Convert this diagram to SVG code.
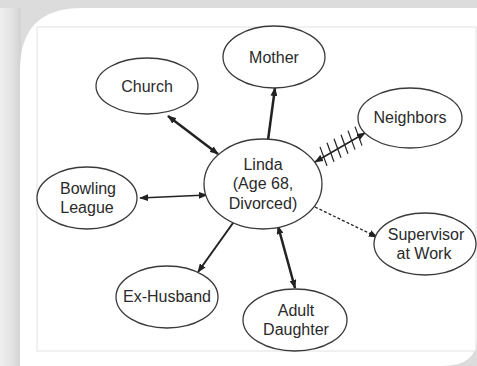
<svg xmlns="http://www.w3.org/2000/svg" width="477" height="366" viewBox="0 0 477 366">
<defs>
<linearGradient id="lg" x1="0" y1="0" x2="1" y2="0">
<stop offset="0" stop-color="#efefef"/>
<stop offset="0.6" stop-color="#e2e2e2"/>
<stop offset="1" stop-color="#d2d2d2"/>
</linearGradient>
<marker id="ah" viewBox="0 0 10 10" refX="9" refY="5" markerWidth="9" markerHeight="7" markerUnits="userSpaceOnUse" orient="auto-start-reverse" preserveAspectRatio="none">
<path d="M0,0 L10,5 L0,10 Z" fill="#222"/>
</marker>
<style>
.n ellipse{fill:#fff;stroke:#3a3a3a;stroke-width:1.3}
.n text{font-family:"Liberation Sans",Arial,sans-serif;font-size:16px;fill:#2a2a2a;text-anchor:middle}
.c line{stroke:#222;fill:none}
.t{stroke:#333;stroke-width:1.2}
</style>
</defs>
<rect width="477" height="366" fill="#dcdcdc"/>
<rect x="0" y="8" width="21" height="358" fill="url(#lg)"/>
<path d="M20,70 Q20,8 82,8 L477,8 L477,338 Q477,366 442,366 L20,366 Z" fill="#fff"/>
<rect x="37" y="27" width="439" height="324" fill="#fff" stroke="#e2e2e2" stroke-width="1"/>
<g class="c" id="connectors">
<line x1="168" y1="116" x2="218" y2="154" stroke-width="2.5" marker-start="url(#ah)" marker-end="url(#ah)"/>
<line x1="268" y1="140" x2="275" y2="88" stroke-width="2.5" marker-end="url(#ah)"/>
<line x1="315" y1="162" x2="365" y2="133" stroke-width="1.5" marker-start="url(#ah)" marker-end="url(#ah)"/>
<g class="t">
<line x1="320" y1="146.9" x2="327" y2="165.9"/>
<line x1="327" y1="142.8" x2="334" y2="161.8"/>
<line x1="334" y1="138.7" x2="341" y2="157.7"/>
<line x1="341" y1="134.7" x2="348" y2="153.7"/>
<line x1="348" y1="130.6" x2="355" y2="149.6"/>
<line x1="355" y1="126.6" x2="362" y2="145.6"/>
</g>
<line x1="140" y1="198" x2="207" y2="195" stroke-width="1.5" marker-start="url(#ah)" marker-end="url(#ah)"/>
<line x1="315" y1="207" x2="377" y2="237" stroke-width="1.3" stroke-dasharray="3,2" marker-end="url(#ah)"/>
<line x1="233" y1="223" x2="198" y2="272" stroke-width="2" marker-end="url(#ah)"/>
<line x1="278" y1="226" x2="295" y2="288" stroke-width="2.5" marker-start="url(#ah)" marker-end="url(#ah)"/>
</g>
<g class="n" id="mother"><ellipse cx="274" cy="57" rx="51" ry="31"/><text x="274" y="63">Mother</text></g>
<g class="n" id="church"><ellipse cx="147" cy="86" rx="51" ry="28"/><text x="147" y="92">Church</text></g>
<g class="n" id="neighbors"><ellipse cx="410" cy="118" rx="52" ry="30"/><text x="410" y="123">Neighbors</text></g>
<g class="n" id="linda"><ellipse cx="263" cy="184" rx="59" ry="45"/><text x="263" y="170">Linda</text><text x="263" y="189">(Age 68,</text><text x="263" y="209">Divorced)</text></g>
<g class="n" id="bowling"><ellipse cx="87" cy="198" rx="50" ry="31"/><text x="88" y="194">Bowling</text><text x="87" y="213">League</text></g>
<g class="n" id="supervisor"><ellipse cx="425" cy="244" rx="51" ry="31"/><text x="426" y="240">Supervisor</text><text x="424" y="259">at Work</text></g>
<g class="n" id="exhusband"><ellipse cx="167" cy="297" rx="51" ry="31"/><text x="167" y="302">Ex-Husband</text></g>
<g class="n" id="daughter"><ellipse cx="295" cy="320" rx="52" ry="31"/><text x="296" y="316">Adult</text><text x="296" y="335">Daughter</text></g>
</svg>
